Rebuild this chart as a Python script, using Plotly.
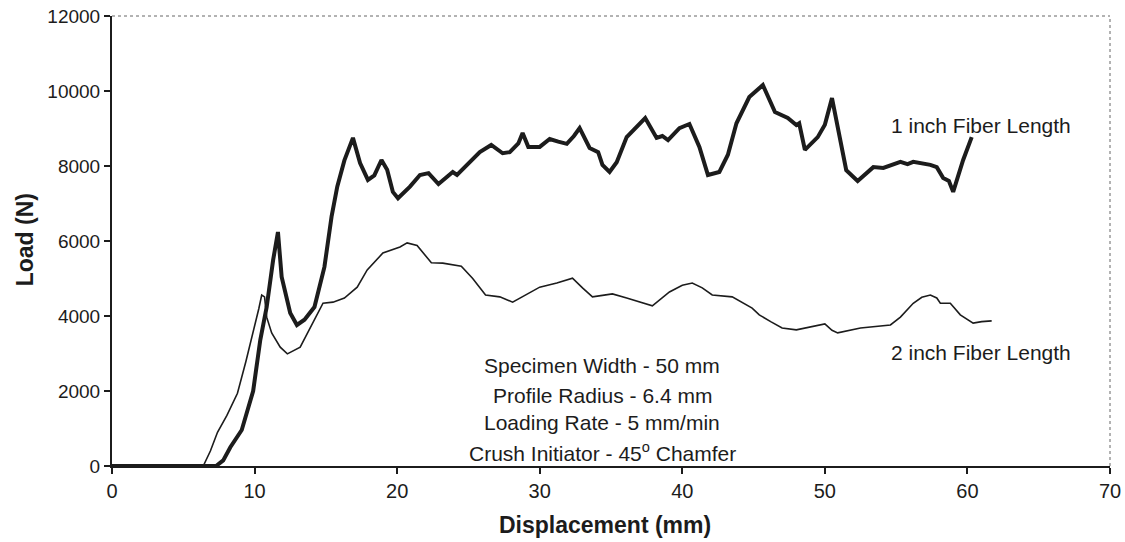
import plotly.graph_objects as go

# Crush test load-displacement curves
disp_1in = [0, 7.3, 7.8, 8.3, 9.1, 9.9, 10.4, 10.85, 11.3, 11.64, 11.9, 12.5, 12.97, 13.5, 14.2,
            14.9, 15.4, 15.8, 16.3, 16.9, 17.4, 17.95, 18.4, 18.9, 19.3, 19.7, 20.06, 20.9, 21.6,
            22.2, 22.9, 23.5, 23.9, 24.2, 24.9, 25.8, 26.6, 27.4, 27.9, 28.5, 28.8, 29.2, 30.0,
            30.7, 31.3, 31.9, 32.4, 32.8, 33.5, 34.1, 34.4, 34.9, 35.4, 36.1, 37.4, 38.2, 38.6,
            39.0, 39.8, 40.5, 41.2, 41.8, 42.6, 43.2, 43.8, 44.7, 45.65, 46.5, 47.4, 48.0, 48.2,
            48.6, 49.5, 50.0, 50.5, 51.05, 51.5, 52.3, 53.4, 54.1, 55.3, 55.8, 56.2, 57.4, 57.85,
            58.3, 58.7, 59.0, 59.7, 60.3]
load_1in = [0, 0, 150, 500, 960, 2000, 3360, 4240, 5490, 6240, 5040, 4080, 3760, 3900, 4240,
            5310, 6650, 7450, 8150, 8750, 8080, 7630, 7750, 8160, 7900, 7310, 7140, 7450, 7760,
            7810, 7520, 7700, 7840, 7760, 8030, 8370, 8560, 8340, 8370, 8600, 8880, 8510, 8510,
            8720, 8650, 8590, 8800, 9010, 8480, 8370, 8030, 7840, 8100, 8770, 9280, 8750, 8800,
            8690, 9010, 9120, 8510, 7760, 7840, 8300, 9140, 9840, 10160, 9440, 9280, 9090, 9140,
            8430, 8770, 9100, 9810, 8770, 7890, 7600, 7970, 7950, 8110, 8050, 8110, 8030, 7970,
            7680, 7600, 7310, 8160, 8770]

disp_2in = [0, 6.4, 6.9, 7.4, 8.06, 8.8, 9.4, 9.9, 10.3, 10.5, 10.7, 10.85, 11.2, 11.8, 12.3,
            13.2, 14.1, 14.8, 15.5, 16.3, 17.2, 17.9, 19.0, 20.2, 20.7, 21.4, 22.4, 23.2, 24.5,
            25.3, 26.2, 27.2, 28.1, 29.0, 30.0, 31.2, 32.3, 33.0, 33.7, 34.4, 35.1, 36.1, 37.0,
            37.9, 39.1, 40.0, 40.7, 41.4, 42.1, 43.5, 44.9, 45.4, 46.2, 47.0, 48.0, 49.0, 50.0,
            50.5, 50.9, 52.5, 54.6, 55.3, 56.2, 56.8, 57.4, 57.85, 58.1, 58.8, 59.5, 60.4, 61.0,
            61.7]
load_2in = [0, 0, 400, 900, 1350, 1940, 2800, 3550, 4200, 4560, 4510, 3970, 3550, 3170, 2990,
            3170, 3810, 4340, 4370, 4480, 4770, 5230, 5680, 5840, 5950, 5880, 5420, 5410, 5330,
            5000, 4560, 4510, 4370, 4550, 4770, 4880, 5010, 4750, 4510, 4550, 4590, 4480, 4380,
            4270, 4640, 4820, 4880, 4750, 4560, 4510, 4210, 4030, 3850, 3680, 3630, 3700, 3790,
            3620, 3550, 3680, 3760, 3970, 4340, 4500, 4560, 4480, 4340, 4340, 4030, 3810, 3850,
            3870]

x_ticks = [0, 10, 20, 30, 40, 50, 60, 70]
y_ticks = [0, 2000, 4000, 6000, 8000, 10000, 12000]
y_tick_labels = ["0", "2000", "4000", "6000", "8000", "10000", "12000"]

test_notes = ["Specimen Width - 50 mm", "Profile Radius - 6.4 mm",
              "Loading Rate - 5 mm/min", "Crush Initiator - 45<sup>o</sup> Chamfer"]
notes_y = [2693, 1893, 1147, 373]
notes_x = 34.4

assert len(disp_1in) == len(load_1in)
assert len(disp_2in) == len(load_2in)

FONT = "Liberation Sans, Arial, sans-serif"
INK = "#1c1c1c"

fig = go.Figure()
fig.add_trace(go.Scatter(x=disp_2in, y=load_2in, mode="lines",
                         line=dict(color=INK, width=1.6), name="2 inch Fiber Length"))
fig.add_trace(go.Scatter(x=disp_1in, y=load_1in, mode="lines",
                         line=dict(color=INK, width=4), name="1 inch Fiber Length"))

# Curve labels
fig.add_annotation(x=60.94, y=9093, text="1 inch Fiber Length", showarrow=False,
                   font=dict(family=FONT, size=21, color=INK))
fig.add_annotation(x=60.94, y=3040, text="2 inch Fiber Length", showarrow=False,
                   font=dict(family=FONT, size=21, color=INK))

# Test condition notes
for txt, yy in zip(test_notes, notes_y):
    fig.add_annotation(x=notes_x, y=yy, text=txt, showarrow=False,
                       font=dict(family=FONT, size=21, color=INK))

# Axis titles
fig.add_annotation(xref="paper", yref="paper", x=0.4935, y=-0.131,
                   text="<b>Displacement (mm)</b>", showarrow=False,
                   xanchor="center", yanchor="middle",
                   font=dict(family=FONT, size=23, color=INK))
fig.add_annotation(xref="paper", yref="paper", x=-0.087, y=0.502,
                   text="<b>Load (N)</b>", showarrow=False, textangle=-90,
                   xanchor="center", yanchor="middle",
                   font=dict(family=FONT, size=23, color=INK))

# Dotted top and right frame edges
fig.add_shape(type="line", xref="paper", yref="paper", x0=0, y0=1, x1=1, y1=1,
              line=dict(color="#666", width=1, dash="dot"))
fig.add_shape(type="line", xref="paper", yref="paper", x0=1, y0=0, x1=1, y1=1,
              line=dict(color="#666", width=1, dash="dot"))

fig.update_layout(
    width=1125, height=542,
    margin=dict(l=112, r=15, t=16, b=76),
    paper_bgcolor="white", plot_bgcolor="white",
    showlegend=False,
    font=dict(family=FONT, color=INK),
    xaxis=dict(range=[0, 70], tickvals=x_ticks, ticks="outside", ticklen=6, tickwidth=1.5,
               tickcolor=INK, showline=True, linecolor=INK, linewidth=2, showgrid=False,
               zeroline=False, automargin=False, tickfont=dict(size=20, color=INK)),
    yaxis=dict(range=[0, 12000], tickvals=y_ticks, ticktext=y_tick_labels, ticks="outside",
               ticklen=6, tickwidth=1.5, tickcolor=INK, showline=True, linecolor=INK,
               linewidth=2, showgrid=False, zeroline=False, automargin=False,
               tickfont=dict(size=19, color=INK)),
)

fig.write_html("out.html")
